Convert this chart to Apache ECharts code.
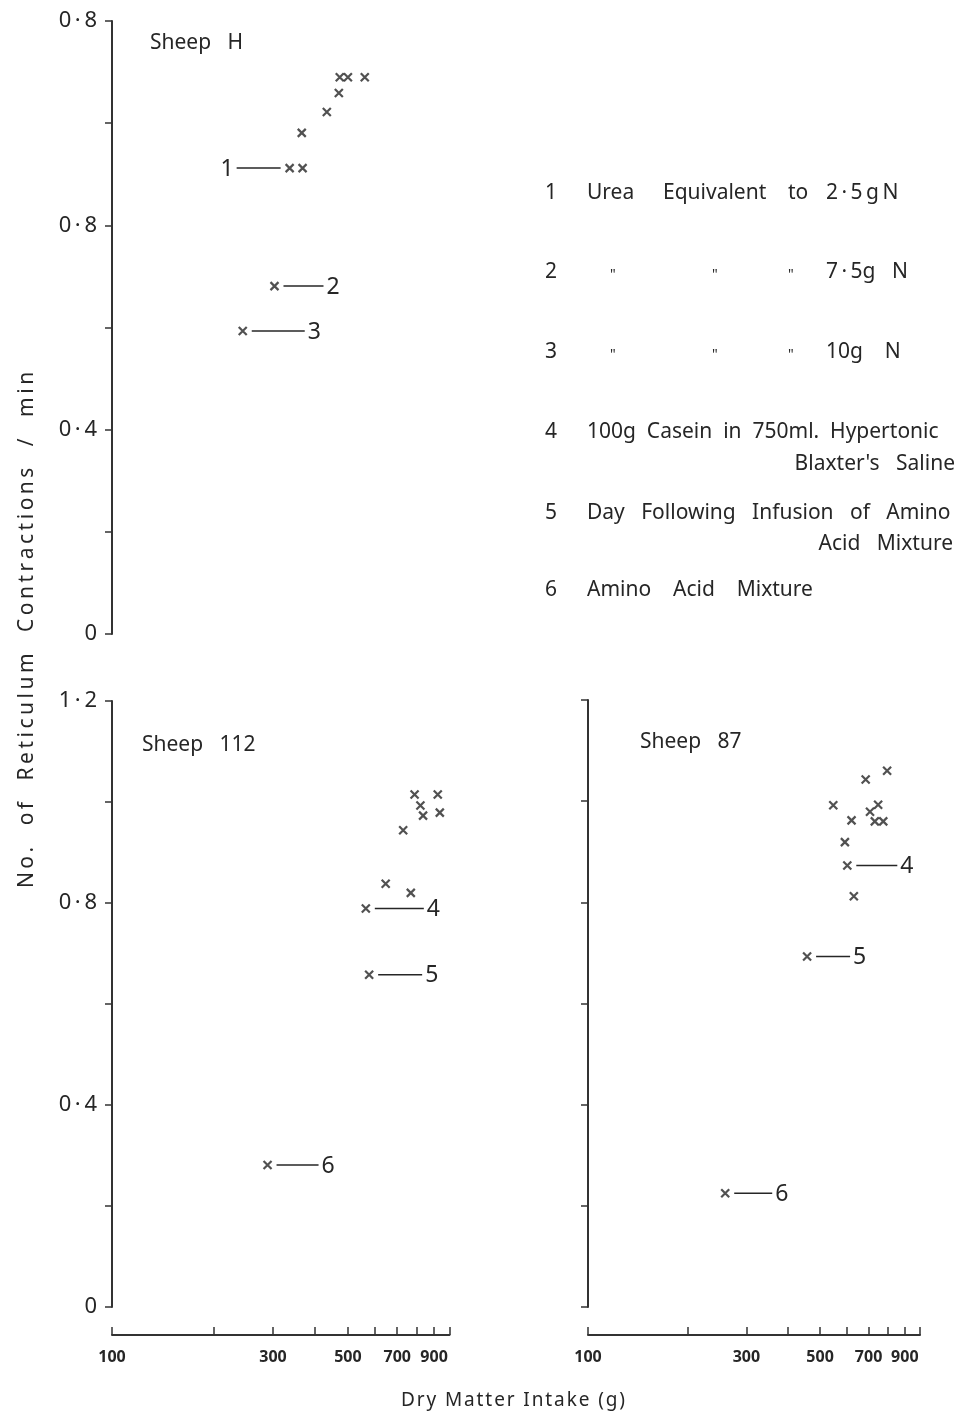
<!DOCTYPE html>
<html>
<head>
<meta charset="utf-8">
<script src="https://cdn.jsdelivr.net/npm/echarts@6/dist/echarts.min.js"></script>
<style>
  html, body { margin: 0; padding: 0; background: #fff; }
  #chart { width: 958px; height: 1412px; }
</style>
</head>
<body>
<div id="chart"></div>
<script>
/** 数据 **/
var sheepH_x = [561, 500, 473, 470, 433, 365, 336, 367, 303, 244];
var sheepH_y = [1.09, 1.09, 1.09, 1.059, 1.022, 0.981, 0.912, 0.912, 0.681, 0.593];
var sheepH_notes = [{ i: 6, label: '1', side: 'left' }, { i: 8, label: '2' }, { i: 9, label: '3' }];

var sheep112_x = [788, 923, 820, 835, 936, 729, 647, 768, 565, 578, 289];
var sheep112_y = [1.015, 1.015, 0.993, 0.973, 0.979, 0.944, 0.838, 0.820, 0.789, 0.658, 0.281];
var sheep112_notes = [{ i: 8, label: '4' }, { i: 9, label: '5' }, { i: 10, label: '6' }];

var sheep87_x = [796, 686, 548, 748, 707, 622, 731, 775, 594, 604, 632, 457, 259];
var sheep87_y = [1.060, 1.043, 0.992, 0.993, 0.979, 0.962, 0.960, 0.960, 0.919, 0.873, 0.812, 0.693, 0.225];
var sheep87_notes = [{ i: 9, label: '4' }, { i: 11, label: '5' }, { i: 12, label: '6' }];

var xTicks = [100, 200, 300, 400, 500, 600, 700, 800, 900, 1000];
var xTickLabels = [100, 300, 500, 700, 900];
var yTickLabelsTop = ['0', '', '0\u2009·\u20094', '', '0\u2009·\u20098', '', '0\u2009·\u20098'];
var yTickLabelsLeft = ['0', '', '0\u2009·\u20094', '', '0\u2009·\u20098', '', '1\u2009·\u20092'];

// leader line lengths (px) per panel, same order as notes
var leadH = [44, 40, 53];
var lead112 = [49, 44, 42];
var lead87 = [41, 34, 38];

var FONT = '"Noto Sans", "DejaVu Sans", sans-serif';
var INK = '#262626';

var myChart = echarts.init(document.getElementById('chart'));

function pts(xs, ys) {
    return xs.map(function (x, k) { return [x, ys[k]]; });
}

function spaced(s, sep) {
    return s.split('').join(sep);
}

function xAxisOf(idx, show) {
    return {
        type: 'log', logBase: 10, gridIndex: idx, min: 100, max: 1000,
        show: show, offset: 28,
        axisLine: { onZero: false, lineStyle: { color: '#333', width: 2 } },
        axisTick: { inside: true, length: 8, customValues: xTicks, lineStyle: { width: 1.5, color: '#333' } },
        axisLabel: { customValues: xTickLabels, color: INK, fontSize: 16, fontWeight: 'bold', fontFamily: FONT, margin: 14 },
        splitLine: { show: false }, minorTick: { show: false }
    };
}

function yAxisOf(idx, labels) {
    return {
        type: 'value', gridIndex: idx, min: 0, max: 1.2, interval: 0.2,
        axisLine: { show: true, lineStyle: { color: '#333', width: 2 } },
        axisTick: { show: true, length: 7, lineStyle: { width: 1.5, color: '#333' } },
        axisLabel: {
            show: !!labels, color: INK, fontSize: 22, fontFamily: FONT, margin: 15,
            formatter: function (v) { return labels ? labels[Math.round(v / 0.2)] : ''; }
        },
        splitLine: { show: false }
    };
}

function scatterOf(idx, xs, ys) {
    return {
        type: 'scatter', xAxisIndex: idx, yAxisIndex: idx,
        data: pts(xs, ys),
        symbol: 'path://M0,0L10,10M10,0L0,10',
        symbolSize: 8,
        itemStyle: { color: 'transparent', borderColor: INK, borderWidth: 2.2 },
        silent: true
    };
}

function notesOf(idx, xs, ys, notes, lens) {
    return {
        type: 'custom', xAxisIndex: idx, yAxisIndex: idx, clip: false, silent: true,
        data: notes.map(function (n) { return [xs[n.i], ys[n.i]]; }),
        encode: { x: 0, y: 1 },
        renderItem: function (params, api) {
            var n = notes[params.dataIndex];
            var p = api.coord([api.value(0), api.value(1)]);
            var dir = n.side === 'left' ? -1 : 1;
            var gap = 9, len = lens[params.dataIndex];
            return {
                type: 'group',
                children: [
                    { type: 'line', shape: { x1: p[0] + dir * gap, y1: p[1], x2: p[0] + dir * (gap + len), y2: p[1] },
                      style: { stroke: INK, lineWidth: 1.5 } },
                    { type: 'text', x: p[0] + dir * (gap + len + 3), y: p[1] + 1,
                      style: { text: n.label, font: '23px ' + FONT, fill: INK,
                               align: dir > 0 ? 'left' : 'right', verticalAlign: 'middle' } }
                ]
            };
        }
    };
}

function txt(x, y, s, size, extra) {
    var o = { type: 'text', x: x, y: y, style: { text: s, font: size + 'px ' + FONT, fill: INK, verticalAlign: 'middle' } };
    if (extra) { for (var k in extra) { o.style[k] = extra[k]; } }
    return o;
}

var option = {
    backgroundColor: '#fff',
    animation: false,
    grid: [
        { left: 112, top: 21, width: 337.5, height: 613 },
        { left: 112, top: 701, width: 337.5, height: 606 },
        { left: 588, top: 700, width: 332, height: 607 }
    ],
    xAxis: [xAxisOf(0, false), xAxisOf(1, true), xAxisOf(2, true)],
    yAxis: [yAxisOf(0, yTickLabelsTop), yAxisOf(1, yTickLabelsLeft), yAxisOf(2, null)],
    series: [
        scatterOf(0, sheepH_x, sheepH_y),
        scatterOf(1, sheep112_x, sheep112_y),
        scatterOf(2, sheep87_x, sheep87_y),
        notesOf(0, sheepH_x, sheepH_y, sheepH_notes, leadH),
        notesOf(1, sheep112_x, sheep112_y, sheep112_notes, lead112),
        notesOf(2, sheep87_x, sheep87_y, sheep87_notes, lead87)
    ],
    graphic: [
        txt(150, 43, 'Sheep   H', 21),
        txt(142, 745, 'Sheep   112', 21),
        txt(640, 742, 'Sheep   87', 21),
        // legend
        txt(545, 193, '1', 21), txt(587, 193, 'Urea', 21), txt(663, 193, 'Equivalent', 21),
        txt(788, 193, 'to', 21), txt(826, 193, '2\u2009·\u20095\u2009g\u2009N', 21),
        txt(545, 272, '2', 21), txt(610, 275, '"', 14), txt(712, 275, '"', 14), txt(788, 275, '"', 14),
        txt(826, 272, '7\u2009·\u20095g   N', 21),
        txt(545, 352, '3', 21), txt(610, 355, '"', 14), txt(712, 355, '"', 14), txt(788, 355, '"', 14),
        txt(826, 352, '10g    N', 21),
        txt(545, 432, '4', 21), txt(587, 432, '100g  Casein  in  750ml.  Hypertonic', 21),
        txt(955, 464, 'Blaxter\'s   Saline', 21, { align: 'right' }),
        txt(545, 513, '5', 21), txt(587, 513, 'Day   Following   Infusion   of   Amino', 21),
        txt(953, 544, 'Acid   Mixture', 21, { align: 'right' }),
        txt(545, 590, '6', 21), txt(587, 590, 'Amino    Acid    Mixture', 21),
        // axis titles
        txt(513, 1401, spaced('Dry Matter Intake (g)', '\u200A'), 19, { align: 'center' }),
        { type: 'text', x: 27, y: 630, rotation: Math.PI / 2,
          style: { text: spaced('No.  of  Reticulum  Contractions  /  min', '\u2006'), font: '21px ' + FONT, fill: INK,
                   align: 'center', verticalAlign: 'middle' } }
    ]
};
myChart.setOption(option);
</script>
</body>
</html>
